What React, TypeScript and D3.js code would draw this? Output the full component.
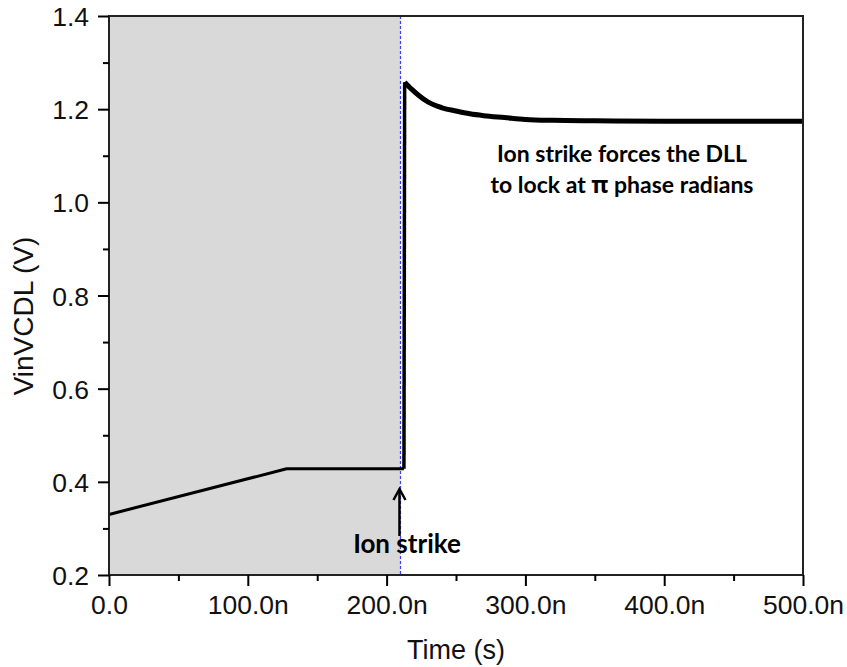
import React, { useEffect, useRef } from "react";
import * as d3 from "d3";

// time in ns, voltage in V
const preTime = [0, 128, 212.5];
const preVolt = [0.33, 0.428, 0.428];

const jumpTime = [212.5, 213];
const jumpVolt = [0.428, 1.258];

const decayTime = [213, 218, 223, 230, 240, 250, 260, 270, 285, 300, 320, 350, 400, 450, 500];
const decayVolt = [1.258, 1.243, 1.23, 1.215, 1.203, 1.196, 1.19, 1.186, 1.182, 1.178, 1.176, 1.175, 1.174, 1.174, 1.174];

const xMajorTicks = [0, 100, 200, 300, 400, 500];
const xMinorTicks = [50, 150, 250, 350, 450];
const yMajorTicks = [0.2, 0.4, 0.6, 0.8, 1.0, 1.2, 1.4];
const yMinorTicks = [0.3, 0.5, 0.7, 0.9, 1.1, 1.3];

const strikeTime = 210;

const annotationLines = [["Ion strike forces the DLL"], ["to lock at ", "\u03c0", " phase radians"]];
const strikeLabel = "Ion strike";

const W = 847;
const H = 667;
const margin = { top: 16, right: 44, bottom: 92, left: 109 };

const App = () => {
  const svgRef = useRef<SVGSVGElement>(null);

  useEffect(() => {
    const svg = d3.select(svgRef.current);
    svg.selectAll("*").remove();

    const x = d3
      .scaleLinear()
      .domain([0, 500])
      .range([margin.left, W - margin.right]);
    const y = d3
      .scaleLinear()
      .domain([0.2, 1.4])
      .range([H - margin.bottom, margin.top]);

    const [x0, x1] = x.range();
    const [yb, yt] = y.range();

    // shaded region before the strike
    svg
      .append("rect")
      .attr("x", x0)
      .attr("y", yt)
      .attr("width", x(strikeTime) - x0)
      .attr("height", yb - yt)
      .attr("fill", "#d9d9d9");

    // strike marker
    svg
      .append("line")
      .attr("x1", x(strikeTime))
      .attr("x2", x(strikeTime))
      .attr("y1", yt)
      .attr("y2", yb)
      .attr("stroke", "#3c3cff")
      .attr("stroke-width", 1.2)
      .attr("stroke-dasharray", "3,2");

    const line = d3
      .line<[number, number]>()
      .x((d) => x(d[0]))
      .y((d) => y(d[1]));

    const zip = (a: number[], b: number[]) => a.map((t, i) => [t, b[i]] as [number, number]);

    svg
      .append("path")
      .attr("d", line(zip(preTime, preVolt)))
      .attr("fill", "none")
      .attr("stroke", "#000")
      .attr("stroke-width", 3)
      .attr("stroke-linejoin", "round");

    svg
      .append("path")
      .attr("d", line(zip(jumpTime, jumpVolt)))
      .attr("fill", "none")
      .attr("stroke", "#000")
      .attr("stroke-width", 3.5);

    svg
      .append("path")
      .attr("d", line.curve(d3.curveMonotoneX)(zip(decayTime, decayVolt)))
      .attr("fill", "none")
      .attr("stroke", "#000")
      .attr("stroke-width", 5);

    // frame
    svg
      .append("rect")
      .attr("x", x0)
      .attr("y", yt)
      .attr("width", x1 - x0)
      .attr("height", yb - yt)
      .attr("fill", "none")
      .attr("stroke", "#222")
      .attr("stroke-width", 2);

    // axes
    const font = "'Liberation Sans', Arial, sans-serif";

    const xAxis = svg
      .append("g")
      .attr("transform", `translate(0,${yb})`)
      .call(
        d3
          .axisBottom(x)
          .tickValues(xMajorTicks)
          .tickSize(11)
          .tickSizeOuter(0)
          .tickFormat((d) => (+d === 0 ? "0.0" : `${(+d).toFixed(1)}n`))
      );
    xAxis.select(".domain").remove();
    xAxis.selectAll("line").attr("stroke", "#000").attr("stroke-width", 2);
    xAxis
      .selectAll("text")
      .attr("y", 39)
      .attr("dy", 0)
      .attr("fill", "#111")
      .style("font-family", font)
      .style("font-size", "26.5px");

    const xMinor = svg
      .append("g")
      .attr("transform", `translate(0,${yb})`)
      .call(d3.axisBottom(x).tickValues(xMinorTicks).tickSize(6).tickFormat(() => ""));
    xMinor.select(".domain").remove();
    xMinor.selectAll("line").attr("stroke", "#000").attr("stroke-width", 2);

    const yAxis = svg
      .append("g")
      .attr("transform", `translate(${x0},0)`)
      .call(
        d3
          .axisLeft(y)
          .tickValues(yMajorTicks)
          .tickSize(11)
          .tickSizeOuter(0)
          .tickFormat((d) => (+d).toFixed(1))
      );
    yAxis.select(".domain").remove();
    yAxis.selectAll("line").attr("stroke", "#000").attr("stroke-width", 2);
    yAxis
      .selectAll("text")
      .attr("x", -20)
      .attr("dy", "0.36em")
      .attr("fill", "#111")
      .style("font-family", font)
      .style("font-size", "26.5px");

    const yMinor = svg
      .append("g")
      .attr("transform", `translate(${x0},0)`)
      .call(d3.axisLeft(y).tickValues(yMinorTicks).tickSize(6).tickFormat(() => ""));
    yMinor.select(".domain").remove();
    yMinor.selectAll("line").attr("stroke", "#000").attr("stroke-width", 2);

    // axis titles
    svg
      .append("text")
      .attr("x", (x0 + x1) / 2)
      .attr("y", 659)
      .attr("text-anchor", "middle")
      .attr("fill", "#111")
      .style("font-family", font)
      .style("font-size", "27px")
      .text("Time (s)");

    svg
      .append("text")
      .attr("transform", `translate(33,316) rotate(-90)`)
      .attr("text-anchor", "middle")
      .attr("fill", "#111")
      .style("font-family", font)
      .style("font-size", "28px")
      .text("VinVCDL (V)");

    // annotations
    const bold = "Lato, 'Noto Sans', sans-serif";
    const note = svg
      .append("text")
      .attr("text-anchor", "middle")
      .style("font-family", bold)
      .style("font-weight", 700)
      .style("font-size", "23px");
    annotationLines.forEach((parts, i) => {
      const row = note
        .append("tspan")
        .attr("x", 622)
        .attr("y", 162 + i * 31);
      parts.forEach((p) => {
        const t = row.append("tspan").text(p);
        if (p === "\u03c0") t.style("font-family", "'Noto Sans', 'DejaVu Sans', sans-serif");
      });
    });

    svg
      .append("text")
      .attr("x", 407)
      .attr("y", 553)
      .attr("text-anchor", "middle")
      .style("font-family", bold)
      .style("font-weight", 700)
      .style("font-size", "26px")
      .text(strikeLabel);

    // arrow pointing up to the strike
    const ax = x(strikeTime) - 1;
    svg
      .append("line")
      .attr("x1", ax)
      .attr("x2", ax)
      .attr("y1", 536)
      .attr("y2", 489)
      .attr("stroke", "#000")
      .attr("stroke-width", 2.5);
    svg
      .append("path")
      .attr("d", `M${ax - 6},${500} L${ax},${489} L${ax + 6},${500}`)
      .attr("fill", "none")
      .attr("stroke", "#000")
      .attr("stroke-width", 2.5);
  }, []);

  return (
    <svg
      ref={svgRef}
      width={W}
      height={H}
      style={{ position: "absolute", left: 0, top: 0, background: "#fff" }}
    />
  );
};

export default App;
